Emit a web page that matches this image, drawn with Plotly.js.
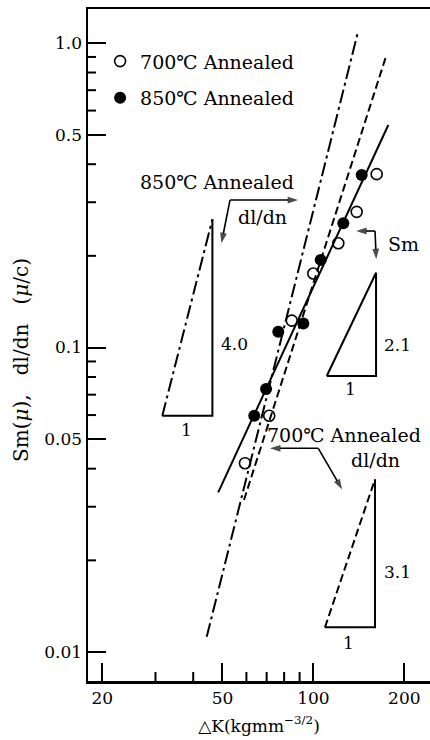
<!DOCTYPE html>
<html><head><meta charset="utf-8">
<script src="https://cdn.plot.ly/plotly-3.0.1.min.js"></script>
<style>html,body{margin:0;padding:0;background:#fff;overflow:hidden}</style>
</head><body><div id="chart" style="width:430px;height:740px"></div>
<script>
// Data points
const dk700 = [162.0, 139.1, 120.9, 99.9, 84.8, 71.4, 59.35];
const sm700 = [0.371, 0.279, 0.220, 0.175, 0.1225, 0.0597, 0.0417];
const dk850 = [144.5, 125.6, 105.7, 92.6, 76.5, 69.7, 63.7];
const sm850 = [0.3685, 0.256, 0.194, 0.120, 0.1127, 0.0731, 0.0597];

// Fitted lines
const smFitX = [48.4, 177.0];
const smFitY = [0.03345, 0.538];
const dl700X = [58.9, 174.8];
const dl700Y = [0.03155, 0.918];
const dl850X = [44.34, 139.8];
const dl850Y = [0.01122, 1.068];

// Slope triangles: [left, right] x and [bottom, top] y
const tri40X = [31.6, 46.3];
const tri40Y = [0.0597, 0.2636];
const tri21X = [110.7, 161.2];
const tri21Y = [0.0806, 0.176];
const tri31X = [109.2, 159.9];
const tri31Y = [0.01205, 0.0369];

// Callout arrows: [corner, tip]
const arr850H = {x: [52.94, 89.0], y: [0.3050, 0.3050]};
const arr850V = {x: [52.94, 49.6], y: [0.3050, 0.2200]};
const arrSmH  = {x: [159.96, 138.5], y: [0.2413, 0.2413]};
const arrSmV  = {x: [159.96, 161.4], y: [0.2413, 0.1950]};
const arr700H = {x: [103.8, 71.8], y: [0.04667, 0.04667]};
const arr700V = {x: [103.8, 124.5], y: [0.04667, 0.0342]};

// Ticks
const xMajor = [20, 50, 100, 200];
const xMajorText = ['20', '50', '100', '200'];
const xMinor = [30, 40, 60, 70, 80, 90];
const yMajor = [0.01, 0.05, 0.1, 0.5, 1.0];
const yMajorText = ['0.01', '0.05', '0.1', '0.5', '1.0'];
const yMinor = [0.02, 0.03, 0.04, 0.06, 0.07, 0.08, 0.09, 0.2, 0.3, 0.4, 0.6, 0.7, 0.8, 0.9];

const FONT = 'DejaVu Serif, serif';
const black = '#000';
const XR = [1.2537, 2.386];
const YR = [-2.0952, 0.1117];

function line(x, y, dash, width) {
  return {x: x, y: y, mode: 'lines', type: 'scatter', showlegend: false, hoverinfo: 'skip',
          line: {color: black, width: width || 2, dash: dash || 'solid'}};
}
function arrow(a) {
  return {x: a.x, y: a.y, mode: 'lines+markers', type: 'scatter', showlegend: false, hoverinfo: 'skip',
          line: {color: black, width: 1.6},
          marker: {symbol: 'arrow', size: [0, 11], angleref: 'previous', color: black, line: {width: 0}}};
}
const dashDot = '14px,4px,3px,4px';
const dashed = '8px,4px';

// Minor tick strokes: short inward segments from the axis edges (decade sizes: 302 px in x, 304.5 px in y)
const xEdge = Math.pow(10, XR[0]);
const yEdge = Math.pow(10, YR[0]);
const xTickEnd = Math.pow(10, XR[0] + 8 / 302);
const yTickEnd = Math.pow(10, YR[0] + 9 / 304.5);
const xMinorTickX = [], xMinorTickY = [];
xMinor.forEach(v => { xMinorTickX.push(v, v, null); xMinorTickY.push(yEdge, yTickEnd, null); });
const yMinorTickX = [], yMinorTickY = [];
yMinor.forEach(v => { yMinorTickX.push(xEdge, xTickEnd, null); yMinorTickY.push(v, v, null); });

const traces = [
  {x: xMinorTickX, y: xMinorTickY, mode: 'lines', type: 'scatter', showlegend: false, hoverinfo: 'skip',
   connectgaps: false, cliponaxis: false, line: {color: black, width: 2}},
  {x: yMinorTickX, y: yMinorTickY, mode: 'lines', type: 'scatter', showlegend: false, hoverinfo: 'skip',
   connectgaps: false, cliponaxis: false, line: {color: black, width: 2}},
  line(dl850X, dl850Y, dashDot, 2),
  line(dl700X, dl700Y, dashed, 2),
  line(smFitX, smFitY, 'solid', 2),
  line([tri40X[0], tri40X[1], tri40X[1]], [tri40Y[0], tri40Y[0], tri40Y[1]], 'solid', 2),
  line([tri40X[0], tri40X[1]], [tri40Y[0], tri40Y[1]], dashDot, 2),
  line([tri21X[0], tri21X[1], tri21X[1], tri21X[0]], [tri21Y[0], tri21Y[0], tri21Y[1], tri21Y[0]], 'solid', 2),
  line([tri31X[0], tri31X[1], tri31X[1]], [tri31Y[0], tri31Y[0], tri31Y[1]], 'solid', 2),
  line([tri31X[0], tri31X[1]], [tri31Y[0], tri31Y[1]], dashed, 2),
  arrow(arr850H), arrow(arr850V), arrow(arrSmH), arrow(arrSmV), arrow(arr700H), arrow(arr700V),
  {x: dk700, y: sm700, mode: 'markers', type: 'scatter', name: '700℃ Annealed', legendgroup: 'a',
   marker: {symbol: 'circle-open', size: 11, color: black, line: {width: 1.6, color: black}}},
  {x: dk850, y: sm850, mode: 'markers', type: 'scatter', name: '850℃ Annealed', legendgroup: 'b',
   marker: {symbol: 'circle', size: 12, color: black}}
];

function txt(x, y, t, size) {
  return {x: x, y: y, xref: 'x', yref: 'y', text: t, showarrow: false, xanchor: 'center', yanchor: 'middle',
          font: {family: FONT, size: size || 19, color: black}};
}

const annotations = [
  txt(1.6808, -0.4565, '850℃ Annealed'),
  txt(1.8315, -0.5714, 'dl/dn'),
  txt(2.2967, -0.6601, 'Sm'),
  txt(1.7371, -0.9885, '4.0', 17),
  txt(1.5805, -1.271, '1', 17),
  txt(2.2785, -0.9918, '2.1', 17),
  txt(2.1212, -1.1363, '1', 17),
  txt(2.1013, -1.2874, '700℃ Annealed'),
  txt(2.204, -1.3695, 'dl/dn'),
  txt(2.2785, -1.7363, '3.1', 17),
  txt(2.1156, -1.9695, '1', 17),
  {xref: 'paper', yref: 'paper', x: -0.196, y: 0.4777, xanchor: 'center', yanchor: 'middle',
   textangle: -90, showarrow: false,
   text: 'Sm(<i>μ</i>),\u00a0\u00a0\u00a0dl/dn\u00a0\u00a0\u00a0(<i>μ</i>/c)',
   font: {family: FONT, size: 20, color: black}}
];

const tickFont = {family: FONT, size: 17, color: black};
const layout = {
  width: 430, height: 740,
  margin: {l: 88, r: 0, t: 9, b: 59},
  paper_bgcolor: '#fff', plot_bgcolor: '#fff',
  font: {family: FONT, size: 17, color: black},
  showlegend: true,
  legend: {x: 0.0354, y: 0.9505, xanchor: 'left', yanchor: 'top', bgcolor: 'rgba(0,0,0,0)',
           font: {family: FONT, size: 19, color: black}, tracegroupgap: 9, itemclick: false},
  xaxis: {type: 'log', range: XR, showgrid: false, zeroline: false,
          showline: true, linewidth: 2.5, linecolor: black, mirror: true,
          tickmode: 'array', tickvals: xMajor, ticktext: xMajorText,
          ticks: 'inside', ticklen: 18, tickwidth: 2, tickcolor: black, tickfont: tickFont,
          title: {text: '△K(kgmm<sup>−3/2</sup>)', font: {family: FONT, size: 17, color: black}, standoff: 13}},
  yaxis: {type: 'log', range: YR, showgrid: false, zeroline: false,
          showline: true, linewidth: 2.5, linecolor: black, mirror: false,
          tickmode: 'array', tickvals: yMajor, ticktext: yMajorText,
          ticks: 'inside', ticklen: 18, tickwidth: 2, tickcolor: black, tickfont: tickFont},
  annotations: annotations
};

Plotly.newPlot('chart', traces, layout, {staticPlot: true, displayModeBar: false});
</script>
</body></html>
